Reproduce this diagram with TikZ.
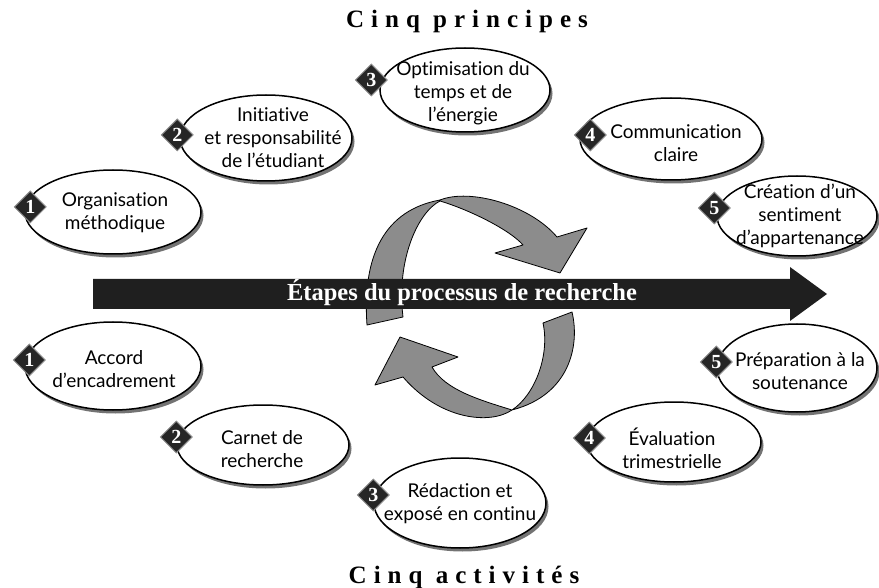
\documentclass[tikz,border=0pt]{standalone}
\usepackage{fontspec}
\setmainfont{Lato}[Ligatures=NoCommon]
\newfontfamily\serifgras{Liberation Serif}
\newfontfamily\titrefont[LetterSpace=28]{Liberation Serif}
\usepackage{tikz}
\usetikzlibrary{shapes.geometric, shadows}

\begin{document}
\begin{tikzpicture}[
    x=1pt, y=-1pt,
    bulle/.style={ellipse, draw=black, line width=1.5pt, fill=white, inner sep=0pt,
        minimum width=176pt, minimum height=86pt,
        drop shadow={shadow xshift=2.5pt, shadow yshift=-3.5pt, fill=black!55, opacity=1}},
    texte/.style={align=center, inner sep=0pt, font=\fontsize{19}{23}\selectfont},
    numero/.style={diamond, fill=black!85, draw=black!45, line width=1pt, minimum size=32pt,
        inner sep=0pt, text=white, font=\serifgras\bfseries\fontsize{20}{20}\selectfont},
    ruban/.style={fill=black!45, draw=black, line width=0.8pt, line join=round},
    titre/.style={anchor=base, font=\titrefont\bfseries\fontsize{25}{25}\selectfont}
]
\useasboundingbox (0,0) rectangle (879,588);

\node[titre] (haut) at (467,28) {Cinq principes};
\node[titre] (bas) at (464,583) {Cinq activités};

\draw[ruban] (367,325) .. controls (362,255) and (385,210) .. (440,200)
    .. controls (470,188) and (530,205) .. (557,237)
    -- (587,228) -- (560,273) -- (495,253) -- (523,245)
    .. controls (510,230) and (470,210) .. (440,201)
    .. controls (418,212) and (396,260) .. (403,317) -- cycle;
\draw[ruban] (572,312) .. controls (580,345) and (570,395) .. (512,410)
    .. controls (490,425) and (440,420) .. (403,377)
    -- (375,385) -- (400,337) -- (458,357) -- (432,367)
    .. controls (445,390) and (480,400) .. (512,410)
    .. controls (535,395) and (550,355) .. (543,323) -- cycle;

\fill[black!88] (93,279) -- (790,279) -- (790,267) -- (827,294) -- (790,321)
    -- (790,309) -- (93,309) -- cycle;
\node[anchor=base, text=white, font=\serifgras\bfseries\fontsize{24.5}{24.5}\selectfont]
    (etapes) at (462,301) {Étapes du processus de recherche};

\node[bulle, minimum height=84pt] (p1) at (113,212) {};
\node[bulle, minimum width=172pt] (p2) at (266,138) {};
\node[bulle, minimum width=170pt, minimum height=84pt] (p3) at (465,90) {};
\node[bulle, minimum width=182pt, minimum height=82pt] (p4) at (671,139) {};
\node[bulle, minimum width=160pt, minimum height=80pt] (p5) at (797,216) {};

\node[bulle, minimum height=88pt] (a1) at (113,366) {};
\node[bulle, minimum width=172pt, minimum height=80pt] (a2) at (263,445) {};
\node[bulle, minimum width=172pt, minimum height=90pt] (a3) at (460,503) {};
\node[bulle, minimum width=174pt, minimum height=80pt] (a4) at (674,442) {};
\node[bulle, minimum width=160pt, minimum height=88pt] (a5) at (797,368) {};

\node[texte] (p1t) at (115,213) {Organisation\\méthodique};
\node[texte] (p2t) at (273,138) {Initiative\\et responsabilité\\de l'étudiant};
\node[texte] (p3t) at (463,93) {Optimisation du\\temps et de\\l’énergie};
\node[texte] (p4t) at (676,143) {Communication\\claire};
\node[texte] (p5t) at (800,216) {Création d'un\\sentiment\\d'appartenance};

\node[texte] (a1t) at (114,369) {Accord\\d'encadrement};
\node[texte] (a2t) at (262,449) {Carnet de\\recherche};
\node[texte] (a3t) at (460,504) {Rédaction et\\exposé en continu};
\node[texte] (a4t) at (672,448) {Évaluation\\trimestrielle};
\node[texte] (a5t) at (800,371) {Préparation à la\\soutenance};

\node[numero] (p1n) at ([xshift=6pt, yshift=5pt]p1.west) {1};
\node[numero] (p2n) at ([xshift=-2pt, yshift=3pt]p2.west) {2};
\node[numero] (p3n) at ([xshift=-8pt, yshift=10pt]p3.west) {3};
\node[numero] (p4n) at ([xshift=11pt, yshift=4pt]p4.west) {4};
\node[numero] (p5n) at ([xshift=-2pt, yshift=8pt]p5.west) {5};

\node[numero] (a1n) at ([xshift=5pt, yshift=6pt]a1.west) {1};
\node[numero] (a2n) at ([yshift=8pt]a2.west) {2};
\node[numero] (a3n) at ([yshift=8pt]a3.west) {3};
\node[numero] (a4n) at ([xshift=3pt, yshift=4pt]a4.west) {4};
\node[numero] (a5n) at ([yshift=6pt]a5.west) {5};
\end{tikzpicture}
\end{document}
